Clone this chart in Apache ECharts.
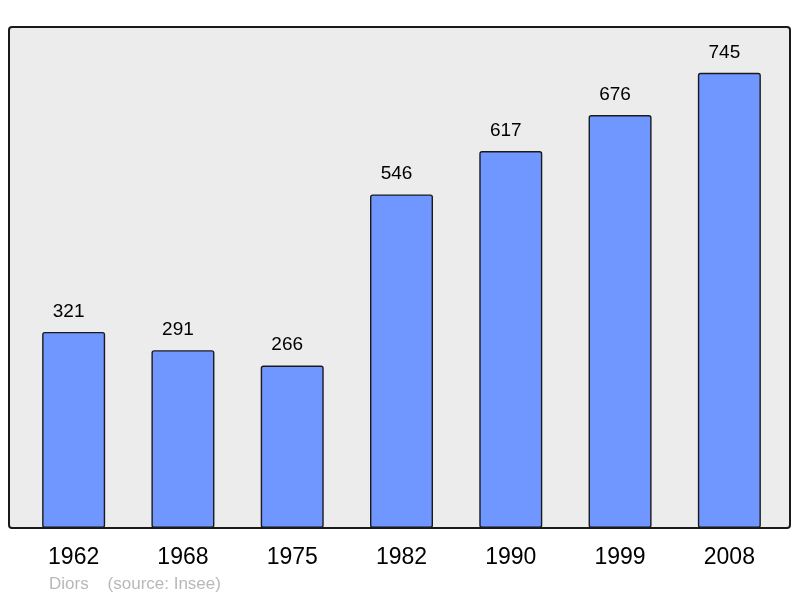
<!DOCTYPE html>
<html>
<head>
<meta charset="utf-8">
<script src="https://cdn.jsdelivr.net/npm/echarts@6/dist/echarts.min.js"></script>
<style>html,body{margin:0;padding:0;background:#fff;}#c{width:800px;height:598px;}</style>
</head>
<body>
<div id="c"></div>
<script>
const categories = ['1962','1968','1975','1982','1990','1999','2008'];
const population = [321, 291, 266, 546, 617, 676, 745];
const footerText = 'Diors    (source: Insee)';

const chart = echarts.init(document.getElementById('c'), null, {renderer: 'canvas'});
chart.setOption({
  backgroundColor: '#ffffff',
  animation: false,
  grid: {left: 19, right: 16, top: 27, bottom: 70},
  xAxis: {
    type: 'category',
    data: categories,
    axisLine: {show: false},
    axisTick: {show: false},
    axisLabel: {fontFamily: 'Liberation Sans', fontSize: 23, color: '#000', margin: 18}
  },
  yAxis: {
    type: 'value', min: 0, max: 820, show: false, splitLine: {show: false}
  },
  graphic: [
    {type: 'rect', z: -10, shape: {x: 9, y: 27, width: 781, height: 501, r: 3},
     style: {fill: '#ececec', stroke: null}},
    {type: 'rect', z: 100, shape: {x: 9, y: 27, width: 781, height: 501, r: 3},
     style: {fill: null, stroke: '#1a1a1a', lineWidth: 2}},
    {type: 'text', left: 49, top: 576, z: 100,
     style: {text: footerText, fontFamily: 'Liberation Sans', fontSize: 17, fill: '#b8b8b8'}}
  ],
  series: [{
    type: 'bar',
    data: population,
    barWidth: 63,
    itemStyle: {color: '#7097ff', borderColor: '#1a1a1a', borderWidth: 1.4, borderRadius: 2},
    label: {
      show: true, position: 'top', distance: 11, offset: [-5, 0],
      fontFamily: 'Liberation Sans', fontSize: 19, color: '#000'
    }
  }]
});
</script>
</body>
</html>
